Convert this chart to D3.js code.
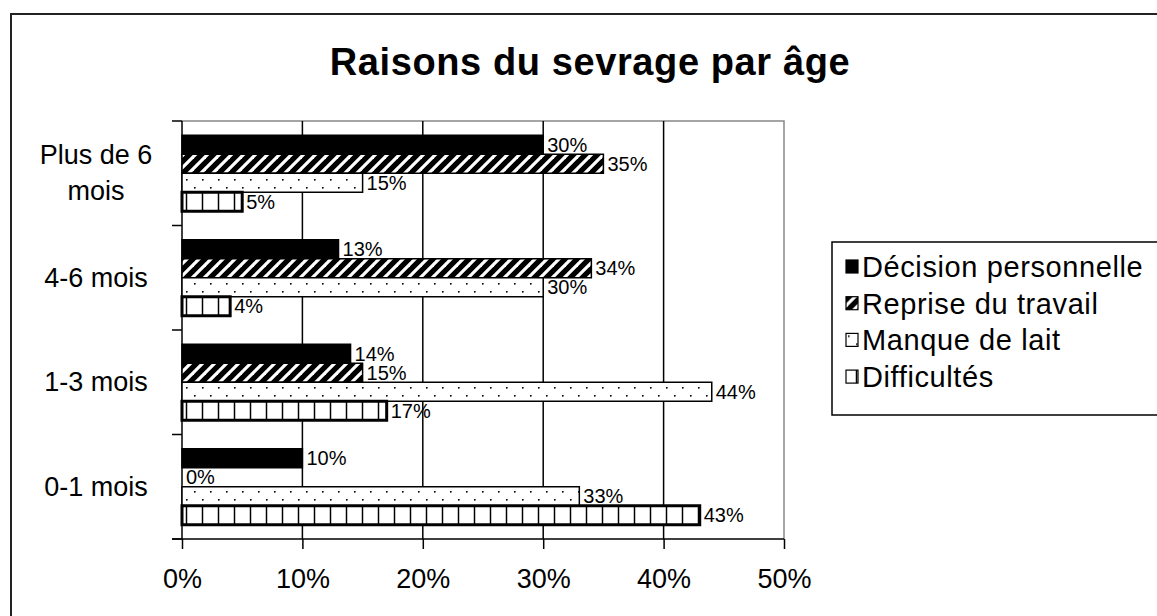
<!DOCTYPE html>
<html>
<head>
<meta charset="utf-8">
<script src="https://cdn.jsdelivr.net/npm/d3@7"></script>
<style>
    body { margin: 0; background: #fff; }
    svg text { font-family: "Liberation Sans", Arial, sans-serif; fill: #000; }
</style>
</head>
<body>
<svg id="chart" width="1157" height="616"></svg>
<script>
const categories = ["Plus de 6 mois", "4-6 mois", "1-3 mois", "0-1 mois"];
const seriesNames = ["Décision personnelle", "Reprise du travail", "Manque de lait", "Difficultés"];
const decision = [30, 13, 14, 10];
const reprise = [35, 34, 15, 0];
const manque = [15, 30, 44, 33];
const difficultes = [5, 4, 17, 43];
const xTicks = [0, 10, 20, 30, 40, 50];

const seriesValues = [decision, reprise, manque, difficultes];
const fills = ["#000", "url(#hatch)", "url(#dots)", "url(#grid)"];
const strokeWidths = [1.5, 1.5, 1.5, 3];

const margin = {left: 182, top: 121, right: 373, bottom: 77};
const width = 1157, height = 616;

const svg = d3.select("#chart");

// fill patterns
const defs = svg.append("defs");
const hatch = defs.append("pattern")
    .attr("id", "hatch")
    .attr("patternUnits", "userSpaceOnUse")
    .attr("x", margin.left)
    .attr("width", 12).attr("height", 12);
hatch.append("rect").attr("width", 12).attr("height", 12).attr("fill", "#000");
[[0, 12, 12, 0], [-3, 3, 3, -3], [9, 15, 15, 9]].forEach(l => {
    hatch.append("line")
        .attr("x1", l[0]).attr("y1", l[1]).attr("x2", l[2]).attr("y2", l[3])
        .attr("stroke", "#fff").attr("stroke-width", 3.2);
});

const dots = defs.append("pattern")
    .attr("id", "dots")
    .attr("patternUnits", "userSpaceOnUse")
    .attr("x", margin.left)
    .attr("width", 16).attr("height", 16);
dots.append("rect").attr("width", 16).attr("height", 16).attr("fill", "#fff");
[[4, 3], [12, 11]].forEach(p => {
    dots.append("rect")
        .attr("x", p[0]).attr("y", p[1])
        .attr("width", 1.6).attr("height", 1.6)
        .attr("fill", "#000");
});

const grid = defs.append("pattern")
    .attr("id", "grid")
    .attr("patternUnits", "userSpaceOnUse")
    .attr("x", margin.left)
    .attr("width", 16).attr("height", 16);
grid.append("rect").attr("width", 16).attr("height", 16).attr("fill", "#fff");
grid.append("line")
    .attr("x1", 4.5).attr("y1", 0).attr("x2", 4.5).attr("y2", 16)
    .attr("stroke", "#000").attr("stroke-width", 1.5);

// outer frame
svg.append("rect")
    .attr("x", 11).attr("y", 14)
    .attr("width", width).attr("height", height)
    .attr("fill", "none")
    .attr("stroke", "#222")
    .attr("stroke-width", 2);

svg.append("text")
    .attr("x", 590).attr("y", 75)
    .attr("text-anchor", "middle")
    .attr("font-size", 38)
    .attr("font-weight", "bold")
    .attr("letter-spacing", 0.6)
    .text("Raisons du sevrage par âge");

const x = d3.scaleLinear()
    .domain([0, 50])
    .range([margin.left, width - margin.right]);
const y0 = d3.scaleBand()
    .domain(categories)
    .range([margin.top, height - margin.bottom]);
const y1 = d3.scaleBand()
    .domain(seriesNames)
    .range([0, y0.bandwidth()])
    .paddingOuter(0.75);

const plotTop = margin.top, plotBottom = height - margin.bottom;

// plot frame (grey top / right)
svg.append("path")
    .attr("d", `M${x(0)},${plotTop}H${x(50)}V${plotBottom}`)
    .attr("fill", "none")
    .attr("stroke", "#888")
    .attr("stroke-width", 1.5);

// vertical gridlines
svg.append("g")
    .selectAll("line")
    .data(xTicks.slice(1, -1))
    .join("line")
    .attr("x1", d => x(d)).attr("x2", d => x(d))
    .attr("y1", plotTop).attr("y2", plotBottom)
    .attr("stroke", "#000")
    .attr("stroke-width", 1.5);

// x axis
const xAxis = svg.append("g")
    .attr("transform", `translate(0,${plotBottom})`)
    .call(d3.axisBottom(x).tickValues(xTicks).tickFormat(d => d + "%").tickSize(10).tickPadding(20));
xAxis.select(".domain").remove();
xAxis.append("line")
    .attr("x1", margin.left - 10).attr("x2", x(50))
    .attr("stroke", "#000").attr("stroke-width", 1.5);
xAxis.selectAll(".tick line").attr("stroke", "#000").attr("stroke-width", 1.5);
xAxis.selectAll(".tick text")
    .attr("font-size", 27)
    .attr("font-family", "Liberation Sans, Arial, sans-serif")
    .attr("fill", "#000");

// y axis line + ticks at band edges
const bandEdges = categories.map(c => y0(c)).concat([plotBottom]);
svg.append("line")
    .attr("x1", margin.left).attr("x2", margin.left)
    .attr("y1", plotTop).attr("y2", plotBottom)
    .attr("stroke", "#000").attr("stroke-width", 1.5);
svg.append("g")
    .selectAll("line")
    .data(bandEdges)
    .join("line")
    .attr("x1", margin.left - 10).attr("x2", margin.left)
    .attr("y1", d => d).attr("y2", d => d)
    .attr("stroke", "#000").attr("stroke-width", 1.5);

// category labels (wrapped when too wide)
const catLabels = svg.append("g")
    .selectAll("text")
    .data(categories)
    .join("text")
    .attr("x", 96)
    .attr("text-anchor", "middle")
    .attr("font-size", 27);
catLabels.each(function(d) {
    const t = d3.select(this);
    const words = d.split(" ");
    let lines = [d];
    t.text(d);
    if (this.getComputedTextLength() > 140) {
        lines = [words.slice(0, -1).join(" "), words[words.length - 1]];
    }
    t.text(null);
    const mid = y0(d) + y0.bandwidth() / 2;
    lines.forEach((line, i) => {
        t.append("tspan")
            .attr("x", 96)
            .attr("y", mid + (i - (lines.length - 1) / 2) * 36 + 9)
            .text(line);
    });
});

// bars
const rows = [];
categories.forEach((c, ci) => {
    seriesNames.forEach((s, si) => {
        rows.push({cat: c, series: s, si: si, value: seriesValues[si][ci]});
    });
});

const barG = svg.append("g");
barG.selectAll("rect")
    .data(rows)
    .join("rect")
    .attr("x", x(0))
    .attr("y", d => y0(d.cat) + y1(d.series))
    .attr("width", d => x(d.value) - x(0))
    .attr("height", y1.bandwidth())
    .attr("fill", d => fills[d.si])
    .attr("stroke", "#000")
    .attr("stroke-width", d => strokeWidths[d.si]);

barG.selectAll("text")
    .data(rows)
    .join("text")
    .attr("x", d => x(d.value) + 4)
    .attr("y", d => y0(d.cat) + y1(d.series) + y1.bandwidth() / 2 + 7)
    .attr("font-size", 20)
    .text(d => d.value + "%");

// legend
const legend = svg.append("g");
legend.append("rect")
    .attr("x", 832).attr("y", 242)
    .attr("width", 340).attr("height", 173)
    .attr("fill", "#fff")
    .attr("stroke", "#000")
    .attr("stroke-width", 1.5);
const items = legend.selectAll("g")
    .data(seriesNames)
    .join("g")
    .attr("transform", (d, i) => `translate(846,${267 + i * 36.7})`);
items.append("rect")
    .attr("x", 0).attr("y", -7)
    .attr("width", 12).attr("height", 13)
    .attr("fill", (d, i) => fills[i])
    .attr("stroke", "#000")
    .attr("stroke-width", 1.2);
items.append("text")
    .attr("x", 16).attr("y", 10)
    .attr("font-size", 29)
    .attr("letter-spacing", 0.6)
    .text(d => d);
</script>
</body>
</html>
